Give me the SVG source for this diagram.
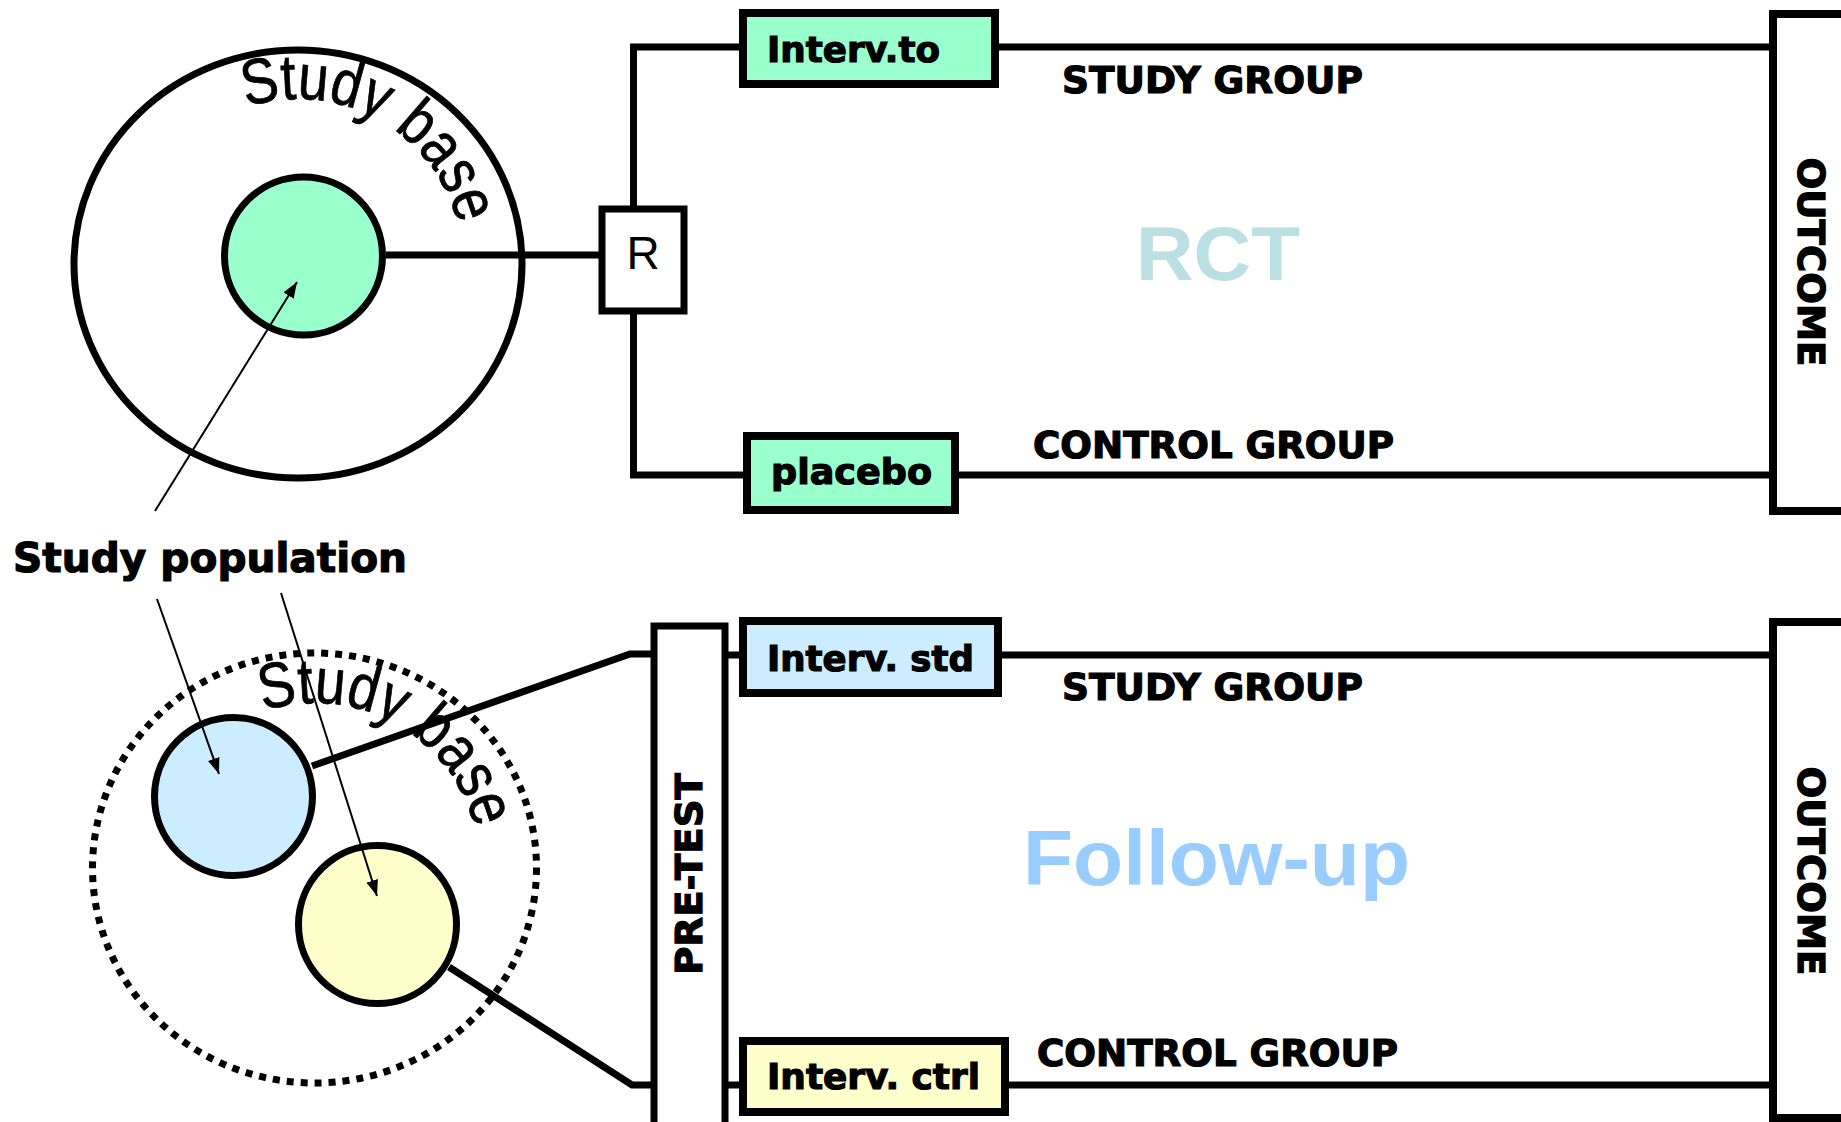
<svg xmlns="http://www.w3.org/2000/svg" xmlns:xlink="http://www.w3.org/1999/xlink" width="1841" height="1122" viewBox="0 0 1841 1122">
<style>
.bg{fill:#ffffff}
.ln{fill:none;stroke:#000;stroke-width:7;stroke-linejoin:miter}
.ar{fill:none;stroke:#000;stroke-width:2}
.box{stroke:#000;stroke-width:8}
.circ{stroke:#000;stroke-width:7}
.lbl{font-family:"DejaVu Sans","Liberation Sans",sans-serif;font-weight:bold;fill:#000;stroke:#000;stroke-width:1.2}
.big{font-family:"Liberation Sans",Arial,sans-serif;font-weight:bold}
.arc{font-family:"Liberation Sans",Arial,sans-serif;font-size:64px;fill:#000;stroke:#000;stroke-width:0.8}
</style>
<defs>
<marker id="ah" markerUnits="userSpaceOnUse" markerWidth="16" markerHeight="12" refX="16" refY="6" orient="auto">
<path d="M0,0 L16,6 L0,12 z" fill="#000"/>
</marker>
<path id="arcTop" d="M213.0,122.6 A165,165 0 0 1 463.0,261.1"/>
<path id="arcBot" d="M230.0,726.6 A165,165 0 0 1 480.0,865.1"/>
</defs>
<rect class="bg" x="0" y="0" width="1841" height="1122"/>

<g id="study-base-top">
<ellipse cx="298" cy="264" rx="224" ry="214" fill="#fff" class="circ"/>
<text class="arc"><textPath xlink:href="#arcTop" href="#arcTop" startOffset="50%" text-anchor="middle" textLength="272" lengthAdjust="spacingAndGlyphs">Study base</textPath></text>
</g>
<g id="study-pop-top">
<ellipse cx="303.5" cy="256" rx="79" ry="79" fill="#99FFCC" class="circ"/>
</g>

<g id="study-base-bottom">
<ellipse cx="314.5" cy="868" rx="222" ry="215" fill="none" stroke="#000" stroke-width="7" stroke-dasharray="7 7"/>
<text class="arc"><textPath xlink:href="#arcBot" href="#arcBot" startOffset="50%" text-anchor="middle" textLength="272" lengthAdjust="spacingAndGlyphs">Study base</textPath></text>
</g>
<g id="pop-blue">
<ellipse cx="233.5" cy="796.5" rx="79" ry="79" fill="#CCECFF" class="circ"/>
</g>
<g id="pop-yellow">
<ellipse cx="377.5" cy="924.5" rx="79" ry="79" fill="#FFFFCC" class="circ"/>
</g>

<g id="connectors">
<path class="ln" d="M386,255 H602"/>
<path class="ln" d="M633.5,209 V47 H743"/>
<path class="ln" d="M633.5,311 V475 H747"/>
<path class="ln" d="M995,47 H1773"/>
<path class="ln" d="M955,475 H1778"/>
<path class="ln" d="M312,766 L630,654 H654"/>
<path class="ln" d="M449,967 L632,1085 H654"/>
<path class="ln" d="M725,655 H743"/>
<path class="ln" d="M725,1085 H743"/>
<path class="ln" d="M998,655 H1773"/>
<path class="ln" d="M1005,1085 H1778"/>
<line class="ar" x1="155" y1="511" x2="297" y2="282" marker-end="url(#ah)"/>
<line class="ar" x1="157" y1="599" x2="219" y2="774" marker-end="url(#ah)"/>
<line class="ar" x1="281" y1="593" x2="377" y2="896" marker-end="url(#ah)"/>
</g>

<g id="randomize">
<rect x="602" y="209" width="82" height="102" fill="#fff" stroke="#000" stroke-width="7"/>
<text x="643" y="269" text-anchor="middle" font-family="Liberation Sans, Arial, sans-serif" font-size="46">R</text>
</g>

<g id="interv-to">
<rect class="box" x="743" y="13" width="252" height="71" fill="#99FFCC"/>
<text class="lbl" x="767" y="62" font-size="36" textLength="173" lengthAdjust="spacingAndGlyphs">Interv.to</text>
</g>
<g id="placebo">
<rect class="box" x="747" y="436" width="208" height="74" fill="#99FFCC"/>
<text class="lbl" x="771" y="484" font-size="36" textLength="161" lengthAdjust="spacingAndGlyphs">placebo</text>
</g>
<g id="outcome-top">
<rect class="box" x="1773" y="14" width="120" height="497" fill="#fff"/>
<text class="lbl" transform="translate(1811,262) rotate(90)" x="0" y="13.5" font-size="37" text-anchor="middle" textLength="209" lengthAdjust="spacingAndGlyphs">OUTCOME</text>
</g>

<g id="pretest">
<rect x="654" y="626" width="71" height="520" fill="#fff" stroke="#000" stroke-width="7"/>
<text class="lbl" transform="translate(688,874) rotate(-90)" x="0" y="13.5" font-size="37" text-anchor="middle" textLength="202" lengthAdjust="spacingAndGlyphs">PRE-TEST</text>
</g>
<g id="interv-std">
<rect class="box" x="743" y="621" width="255" height="72" fill="#CCECFF"/>
<text class="lbl" x="767" y="671" font-size="36" textLength="207" lengthAdjust="spacingAndGlyphs">Interv. std</text>
</g>
<g id="interv-ctrl">
<rect class="box" x="743" y="1041" width="262" height="71" fill="#FFFFCC"/>
<text class="lbl" x="767" y="1089" font-size="36" textLength="213" lengthAdjust="spacingAndGlyphs">Interv. ctrl</text>
</g>
<g id="outcome-bottom">
<rect class="box" x="1773" y="622" width="120" height="496" fill="#fff"/>
<text class="lbl" transform="translate(1811,871) rotate(90)" x="0" y="13.5" font-size="37" text-anchor="middle" textLength="209" lengthAdjust="spacingAndGlyphs">OUTCOME</text>
</g>

<g id="labels">
<text class="lbl" x="1062" y="93" font-size="37" textLength="301" lengthAdjust="spacingAndGlyphs">STUDY GROUP</text>
<text class="lbl" x="1033" y="458" font-size="37" textLength="361" lengthAdjust="spacingAndGlyphs">CONTROL GROUP</text>
<text class="lbl" x="1062" y="700" font-size="37" textLength="301" lengthAdjust="spacingAndGlyphs">STUDY GROUP</text>
<text class="lbl" x="1037" y="1066" font-size="37" textLength="361" lengthAdjust="spacingAndGlyphs">CONTROL GROUP</text>
<text class="lbl" x="13" y="572" font-size="40" textLength="394" lengthAdjust="spacingAndGlyphs">Study population</text>
<text class="big" x="1136" y="280" font-size="76" fill="#BBE0E3" textLength="164" lengthAdjust="spacingAndGlyphs">RCT</text>
<text class="big" x="1023" y="885" font-size="78" fill="#99CCFF" textLength="387" lengthAdjust="spacingAndGlyphs">Follow-up</text>
</g>
</svg>
